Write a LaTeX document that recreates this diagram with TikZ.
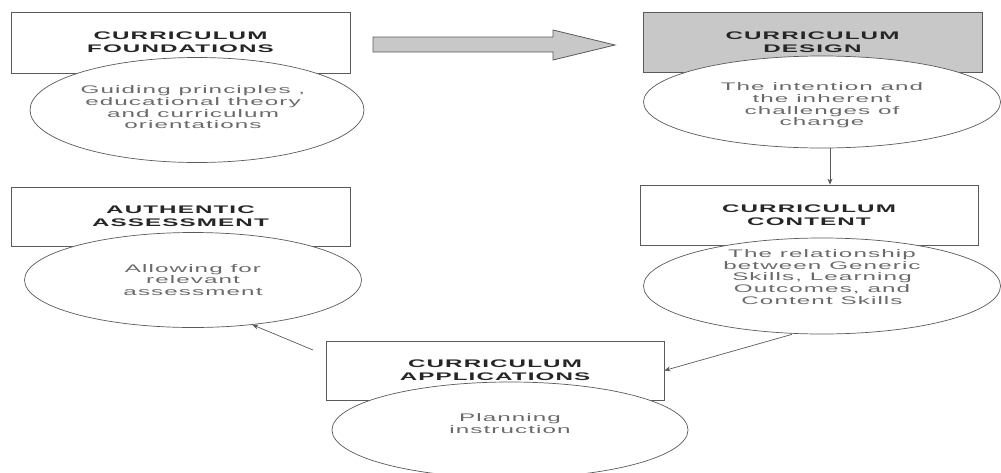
\documentclass[tikz,border=0pt]{standalone}
\usepackage{fontspec}
\setmainfont{Liberation Sans}
\newfontfamily\hfont[FakeStretch=2.2,LetterSpace=10]{Liberation Sans}
\usetikzlibrary{shapes.geometric,arrows.meta}
\definecolor{linec}{HTML}{5A5A5A}
\definecolor{hdrc}{HTML}{262626}
\definecolor{bodyc}{HTML}{6A6A6A}
\definecolor{boxfill}{HTML}{C8C8C8}
\tikzset{
  hbox/.style={draw=linec, line width=0.8pt, rectangle, fill=white, inner sep=0pt,
    text=hdrc, align=center, font=\hfont\bfseries\fontsize{11}{13.3}\selectfont},
  ell/.style={draw=linec, line width=0.7pt, ellipse, fill=white, inner sep=0pt},
  btext/.style={text=bodyc, align=center, inner sep=0pt, font=\hfont\fontsize{11}{11.7}\selectfont},
  arr/.style={draw=linec, line width=0.7pt, -{Stealth[length=6pt,width=5pt]}},
  blockarrow/.style={draw=linec, line width=0.8pt, fill=boxfill}
}
\begin{document}
\begin{tikzpicture}[x=1pt,y=-1pt]
\useasboundingbox (0,0) rectangle (1001,472);
% boxes
\node[hbox, minimum width=339pt, minimum height=61pt] (b1) at (180.5,42.5) {CURRICULUM\\FOUNDATIONS};
\node[hbox, fill=boxfill, minimum width=339pt, minimum height=60pt] (b2) at (812.5,42) {CURRICULUM\\DESIGN};
\node[hbox, minimum width=338pt, minimum height=60pt] (b3) at (809,215) {CURRICULUM\\CONTENT};
\node[hbox, minimum width=339pt, minimum height=59pt] (b4) at (180.5,216.5) {AUTHENTIC\\ASSESSMENT};
\node[hbox, minimum width=338pt, minimum height=59pt] (b5) at (495,370.5) {CURRICULUM\\APPLICATIONS};
% ellipses
\node[ell, minimum width=334pt, minimum height=105pt] (e1) at (197,110) {};
\node[ell, minimum width=357pt, minimum height=92pt] (e2) at (822,102) {};
\node[ell, minimum width=357pt, minimum height=96pt] (e3) at (822,286) {};
\node[ell, minimum width=337pt, minimum height=95pt] (e4) at (193,280) {};
\node[ell, minimum width=356pt, minimum height=96pt] (e5) at (510,430) {};
% texts
\node[btext] (t1) at (193,107.5) {Guiding principles ,\\educational theory\\and curriculum\\orientations};
\node[btext] (t2) at (822,105.5) {The intention and\\the inherent\\challenges of\\change};
\node[btext] (t3) at (822,277) {The relationship\\between Generic\\Skills, Learning\\Outcomes, and\\Content Skills};
\node[btext] (t4) at (193,280) {Allowing for\\relevant\\assessment};
\node[btext] (t5) at (510,423.5) {Planning\\instruction};
% block arrow
\path[blockarrow] (373,37) -- (553,37) -- (553,30) -- (615,45) -- (553,60) -- (553,52) -- (373,52) -- cycle;
% connectors
\draw[arr] ([xshift=8pt]e2.south) -- ([xshift=8pt]e2.south |- b3.north);
\draw[arr] ([xshift=-30pt]e3.south) -- (b5.east);
\coordinate (s4) at (313,350);
\draw[arr] (s4) -- (e4.-37);
\end{tikzpicture}
\end{document}
